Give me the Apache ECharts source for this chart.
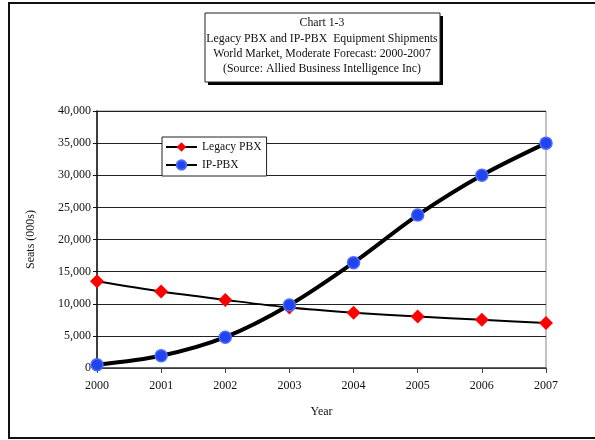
<!DOCTYPE html>
<html><head><meta charset="utf-8">
<script src="https://cdn.jsdelivr.net/npm/echarts@6/dist/echarts.min.js"></script>
<style>html,body{margin:0;padding:0;background:#fff}#c{width:595px;height:440px}</style>
</head><body><div id="c"></div>
<script>
var years = ['2000','2001','2002','2003','2004','2005','2006','2007'];
var legacyPBX = [13500, 11900, 10600, 9400, 8600, 8000, 7500, 7000];
var ipPBX = [500, 1900, 4800, 9800, 16400, 23800, 30000, 35000];
var titleLines = ['Chart 1-3','Legacy PBX and IP-PBX  Equipment Shipments','World Market, Moderate Forecast: 2000-2007','(Source: Allied Business Intelligence Inc)'];
var seriesNames = ['Legacy PBX','IP-PBX'];
var F = '"Liberation Serif", "Times New Roman", serif';
var chart = echarts.init(document.getElementById('c'));
chart.setOption({
  animation: false,
  graphic: [
    {type:'rect', shape:{x:9,y:3,width:600,height:435}, style:{fill:'none',stroke:'#111',lineWidth:2}, z:0},
    {type:'rect', shape:{x:208,y:16,width:235,height:69}, style:{fill:'#000'}, z:1},
    {type:'rect', shape:{x:205,y:13,width:235,height:69}, style:{fill:'#fff',stroke:'#222',lineWidth:1}, z:2}
  ],
  title: {
    text: titleLines.join('\n'),
    left: 322, top: 15.5, textAlign: 'center', padding: 0,
    textStyle: {fontFamily: F, fontSize: 11.8, fontWeight: 'normal', color: '#111', lineHeight: 15.3},
    z: 10
  },
  legend: {
    left: 162, top: 137,
    orient: 'vertical',
    backgroundColor: '#fff', borderColor: '#222', borderWidth: 1,
    padding: [4, 5, 5, 3], itemGap: 6, itemWidth: 31, itemHeight: 12,
    textStyle: {fontFamily: F, fontSize: 11.6, color: '#111'},
    data: seriesNames
  },
  grid: {left: 97, right: 49, top: 111, bottom: 72, show: true, borderColor: '#888', borderWidth: 1},
  xAxis: {
    type: 'category', data: years, boundaryGap: false,
    name: 'Year', nameLocation: 'middle', nameGap: 38,
    nameTextStyle: {fontFamily: F, fontSize: 12, color: '#111'},
    axisLine: {lineStyle: {color: '#444', width: 1.5}},
    axisTick: {show: true, length: 5, lineStyle: {color: '#444'}},
    axisLabel: {fontFamily: F, fontSize: 12, color: '#111', margin: 12}
  },
  yAxis: {
    type: 'value', min: 0, max: 40000, interval: 5000,
    name: 'Seats (000s)', nameLocation: 'middle', nameGap: 60, nameRotate: 90,
    nameTextStyle: {fontFamily: F, fontSize: 12, color: '#111'},
    axisLine: {show: true, lineStyle: {color: '#111', width: 1.5}},
    axisTick: {show: true, length: 4, lineStyle: {color: '#111'}},
    axisLabel: {fontFamily: F, fontSize: 12, color: '#111', margin: 6,
      formatter: function(v){ return v.toLocaleString('en-US'); }},
    splitLine: {lineStyle: {color: '#222', width: 1}}
  },
  series: [
    {name: seriesNames[0], type: 'line', data: legacyPBX, smooth: 0.3,
     symbol: 'diamond', symbolSize: 14,
     itemStyle: {color: '#ff0000', borderWidth: 0},
     lineStyle: {color: '#000', width: 2}, z: 3},
    {name: seriesNames[1], type: 'line', data: ipPBX, smooth: 0.3,
     symbol: 'circle', symbolSize: 12,
     itemStyle: {color: '#2244ee', borderColor: '#4a6cff', borderWidth: 1.5},
     lineStyle: {color: '#000', width: 4}, z: 4}
  ]
});
</script></body></html>
